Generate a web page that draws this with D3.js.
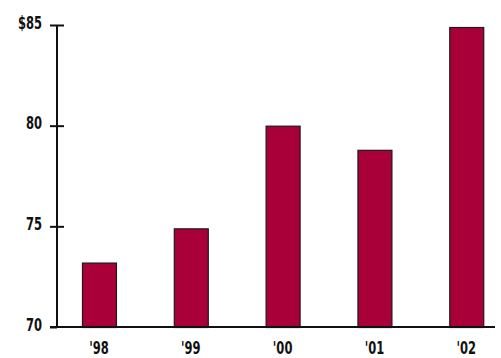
<!DOCTYPE html>
<meta charset="utf-8">
<style>
    body { margin: 0; background: #fff; }
    .lbl { font-family: 'DejaVu Sans', sans-serif; font-weight: bold; font-size: 18px; fill: #111; }
</style>
<body>
<script src="https://cdnjs.cloudflare.com/ajax/libs/d3/7.8.5/d3.min.js"></script>
<script>
    var years = ["'98", "'99", "'00", "'01", "'02"];
    var values = [73.2, 74.9, 80.0, 78.8, 84.9];
    var yTicks = [70, 75, 80, 85];

    var width = 501,
        height = 358;

    var svg = d3.select("body").append("svg")
        .attr("width", width)
        .attr("height", height);

    var x = d3.scaleBand()
        .domain(years)
        .range([57, 495])
        .paddingInner(0.63)
        .paddingOuter(0.2)
        .align(0.68);

    var y = d3.scaleLinear()
        .domain([70, 85])
        .range([327, 25]);

    // bars
    svg.selectAll(".bar")
        .data(values)
        .enter().append("rect")
        .attr("class", "bar")
        .attr("x", function(d, i) { return x(years[i]) + 0.5; })
        .attr("y", function(d) { return y(d) + 0.5; })
        .attr("width", x.bandwidth())
        .attr("height", function(d) { return y(70) - y(d); })
        .attr("fill", "#aa0039")
        .attr("stroke", "#1a1a1a")
        .attr("stroke-width", 1.2);

    // y axis, ticks cross the line
    var yAxis = svg.append("g")
        .attr("transform", "translate(57,0)")
        .call(d3.axisLeft(y)
            .tickValues(yTicks)
            .tickSize(7)
            .tickPadding(8)
            .tickFormat(function(d) { return d == 85 ? "$85" : d; }));

    yAxis.select(".domain").remove();
    yAxis.selectAll(".tick line")
        .attr("x1", -7)
        .attr("x2", function(d) { return d == 70 ? 0 : 7; })
        .attr("stroke", "#111")
        .attr("stroke-width", 2);
    yAxis.selectAll(".tick text")
        .attr("class", "lbl")
        .attr("y", 3)
        .attr("dy", 0);

    yAxis.append("line")
        .attr("x1", 0).attr("x2", 0)
        .attr("y1", y(85)).attr("y2", y(70))
        .attr("stroke", "#111")
        .attr("stroke-width", 2);

    // x axis
    var xAxis = svg.append("g")
        .attr("transform", "translate(0," + y(70) + ")")
        .call(d3.axisBottom(x).tickSize(0));

    xAxis.select(".domain").remove();
    xAxis.append("line")
        .attr("x1", 50).attr("x2", 495)
        .attr("stroke", "#111")
        .attr("stroke-width", 2);
    xAxis.selectAll(".tick text")
        .attr("class", "lbl")
        .attr("y", 27)
        .attr("dy", 0);

    // squeeze labels to look like a condensed face
    svg.selectAll("text")
        .attr("font-family", null)
        .attr("font-size", null)
        .attr("fill", null)
        .each(function() {
            var len = this.getComputedTextLength();
            d3.select(this)
                .attr("textLength", len * 0.64)
                .attr("lengthAdjust", "spacingAndGlyphs");
        });
</script>
</body>
